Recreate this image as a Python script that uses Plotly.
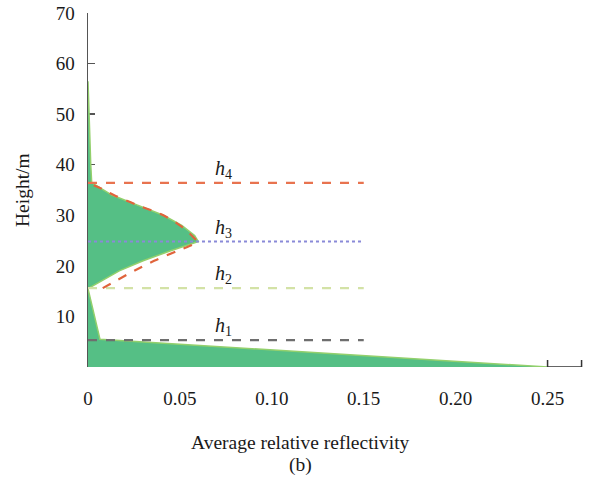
import plotly.graph_objects as go

# ---- data ----
height = [0, 5.5, 15.5, 17, 19, 21, 23, 24.8, 26, 28, 30, 32, 34, 36, 36.5, 40, 45, 50, 56.5]
reflectivity = [0.25, 0.0065, 0.0, 0.007, 0.017, 0.030, 0.045, 0.060, 0.058, 0.051, 0.041,
                0.027, 0.013, 0.004, 0.002, 0.0015, 0.001, 0.0008, 0.0]

fit_height = [15.6, 17, 19, 21, 23, 24.2, 24.8, 25.4, 26.5, 28, 30, 32, 34, 35.5, 36.4]
fit_reflectivity = [0.008, 0.015, 0.025, 0.036, 0.049, 0.057, 0.0595, 0.058, 0.055, 0.050,
                    0.041, 0.027, 0.014, 0.006, 0.0]

h_levels = [5.3, 15.6, 24.8, 36.4]
h_names = ["1", "2", "3", "4"]
h_colors = ["#6e6e6e", "#d3e2a6", "#8a8ad8", "#e8734f"]
h_dashes = ["dash", "dash", "dot", "dash"]
h_line_end = 0.15
h_label_x = 0.0735

x_tick_vals = [0, 0.05, 0.10, 0.15, 0.20, 0.25]
x_tick_text = ["0", "0.05", "0.10", "0.15", "0.20", "0.25"]
y_tick_vals = [10, 20, 30, 40, 50, 60, 70]
axis_stub_x = [0.25, 0.2685]

FONT = "Liberation Serif"
TXT = "#1a1a1a"

fig = go.Figure()

# filled profile
fig.add_trace(go.Scatter(
    x=reflectivity, y=height, mode="lines", fill="tozerox",
    fillcolor="#55bf85", line=dict(color="#93d06c", width=1.5),
    hoverinfo="skip", showlegend=False,
))

# horizontal reference lines
for lvl, col, dsh in zip(h_levels, h_colors, h_dashes):
    fig.add_trace(go.Scatter(
        x=[0, h_line_end], y=[lvl, lvl], mode="lines",
        line=dict(color=col, width=2.2 if dsh == "dash" else 2, dash=dsh),
        hoverinfo="skip", showlegend=False,
    ))

# fitted curve
fig.add_trace(go.Scatter(
    x=fit_reflectivity, y=fit_height, mode="lines",
    line=dict(color="#e0643c", width=2.2, dash="dash", shape="spline"),
    hoverinfo="skip", showlegend=False,
))

# short x-axis stub near 0.25
fig.add_trace(go.Scatter(
    x=[axis_stub_x[0], axis_stub_x[0], axis_stub_x[1], axis_stub_x[1]],
    y=[1.4, 0, 0, 1.4], mode="lines",
    line=dict(color="#333333", width=1.5),
    hoverinfo="skip", showlegend=False, cliponaxis=False,
))

# h labels
for lvl, name in zip(h_levels, h_names):
    fig.add_annotation(
        x=h_label_x, y=lvl, xref="x", yref="y",
        text="<i>h</i><sub>%s</sub>" % name, showarrow=False,
        xanchor="center", yanchor="bottom", yshift=-1,
        font=dict(family=FONT, size=20, color=TXT),
    )

# axis titles
fig.add_annotation(x=0.424, y=-0.212, xref="paper", yref="paper",
                   xanchor="center", yanchor="middle",
                   text="Average relative reflectivity", showarrow=False,
                   font=dict(family=FONT, size=19.5, color=TXT))
fig.add_annotation(x=0.424, y=-0.277, xref="paper", yref="paper",
                   xanchor="center", yanchor="middle",
                   text="(b)", showarrow=False,
                   font=dict(family=FONT, size=19.5, color=TXT))
fig.add_annotation(x=-0.132, y=0.5, xref="paper", yref="paper",
                   xanchor="center", yanchor="middle",
                   text="Height/m", showarrow=False, textangle=-90,
                   font=dict(family=FONT, size=19.5, color=TXT))

fig.update_layout(
    width=590, height=489,
    margin=dict(l=88, r=2, t=13, b=122),
    paper_bgcolor="white", plot_bgcolor="white",
    font=dict(family=FONT, size=19, color=TXT),
    xaxis=dict(
        range=[0, 0.272], showgrid=False, zeroline=False, showline=False,
        tickvals=x_tick_vals, ticktext=x_tick_text,
        ticks="outside", ticklen=14, tickcolor="rgba(0,0,0,0)",
        fixedrange=True,
    ),
    yaxis=dict(
        range=[0, 70], showgrid=False, zeroline=False,
        showline=True, linecolor="#555555", linewidth=1.5,
        tickvals=y_tick_vals, ticks="inside", ticklen=7,
        tickcolor="#555555", tickwidth=1.5, layer="below traces",
        ticklabelstandoff=8, fixedrange=True,
    ),
)

fig.write_html(
    "out.html",
    config={"displayModeBar": False, "staticPlot": True},
    post_script="document.body.style.margin='0';document.body.style.overflow='hidden';",
)
